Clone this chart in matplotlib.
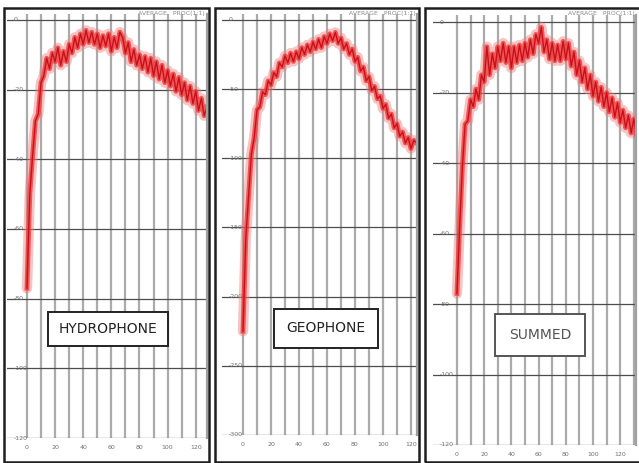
"""Three-panel amplitude spectra: hydrophone, geophone and summed traces."""

import matplotlib

matplotlib.use("Agg")
import matplotlib.pyplot as plt
from matplotlib.patches import Rectangle

W, H = 639, 463

# frequency samples (Hz), every 2 Hz
freq_hyd = list(range(0, 129, 2))
freq_geo = list(range(0, 125, 2))
freq_sum = list(range(0, 133, 2))

# amplitudes (dB)
amp_hyd = [
    -77, -50, -39, -29, -27, -18, -16, -11, -14, -9.5, -12, -8, -13, -9, -12, -7,
    -9.5, -5, -8, -4, -7, -3, -6.5, -3.5, -7, -4, -8, -4.5, -7.5, -4, -9, -5,
    -8, -3.5, -5, -9.5, -6.5, -12, -8.5, -13, -10, -14, -10.5, -15, -11, -16, -12,
    -17, -13, -18, -14.5, -19, -15.5, -20.5, -16.5, -21.5, -18, -23, -19, -24,
    -20.5, -26, -22.5, -27.5, -25,
]
amp_geo = [
    -225, -158, -127, -97, -85, -65, -63, -52, -54, -44, -47, -38, -41, -31, -34,
    -26, -31, -24, -30, -23, -28, -20, -25, -18, -23, -16, -21, -14, -20, -12, -17,
    -10, -15, -9, -17, -13, -21, -17, -25, -21, -30, -27, -37, -34, -44, -41, -51,
    -48, -57, -55, -64, -61, -71, -68, -78, -75, -84, -81, -89, -85, -93, -87, -89,
]
amp_sum = [
    -77, -58, -41, -29, -28, -22, -24, -19, -22, -15, -17, -7, -15, -9, -13, -7,
    -11, -6, -11.5, -7, -13, -7, -11.5, -6.5, -11, -6, -10, -5, -9, -3.5, -6, -1.5,
    -8.5, -5, -10.5, -6, -11, -6.5, -11, -5.5, -10.5, -6, -12.5, -8.5, -15, -11,
    -17, -13, -19, -15, -21, -17, -22.5, -18.5, -24, -20, -25.5, -21.5, -27, -23,
    -28.5, -25, -30, -26.5, -31.5, -27.5, -32,
]

x_ticks = [0, 20, 40, 60, 80, 100, 120]
x_minor = [10, 30, 50, 70, 90, 110, 130]
y_ticks_db = [0, -20, -40, -60, -80, -100, -120]
y_ticks_geo = [0, -50, -100, -150, -200, -250, -300]

labels = ["HYDROPHONE", "GEOPHONE", "SUMMED"]
header = "AVERAGE   PROC(1:1)"


def px_axes(fig, x0, x1, y0, y1):
    return fig.add_axes([x0 / W, 1 - y1 / H, (x1 - x0) / W, (y1 - y0) / H])


def style_panel(ax, xlim, ylim, yticks):
    ax.set_xlim(*xlim)
    ax.set_ylim(*ylim)
    ax.set_xticks(x_ticks, [str(t) for t in x_ticks])
    ax.set_xticks([t for t in x_minor if t <= xlim[1]], minor=True)
    ax.set_yticks(yticks, [str(t) for t in yticks])
    for side in ["top", "left", "bottom"]:
        ax.spines[side].set_visible(False)
    ax.spines["right"].set_color("#a0a0a0")
    ax.spines["right"].set_linewidth(1.6)
    ax.tick_params(axis="both", which="both", length=0, labelsize=4.5, labelcolor="#6f6f6f")
    ax.tick_params(axis="x", pad=5)
    ax.tick_params(axis="y", pad=-5)
    for lab in ax.get_yticklabels():
        lab.set_horizontalalignment("left")
        lab.set_verticalalignment("center")
    ax.grid(axis="y", color="#4d4d4d", linewidth=0.9)
    ax.grid(axis="x", which="both", color="#ababab", linewidth=1.6)
    ax.set_axisbelow(True)


def draw_curve(ax, f, a):
    ax.plot(f, a, color="#f07a7a", linewidth=7.5, alpha=0.45,
            solid_joinstyle="round", solid_capstyle="round")
    ax.plot(f, a, color="#ee3b3b", linewidth=3.5, alpha=0.8,
            solid_joinstyle="round")
    ax.plot(f, a, color="#c8101a", linewidth=1.0)


fig = plt.figure(figsize=(W / 100, H / 100), dpi=100)
fig.patch.set_facecolor("white")

# hydrophone
ax1 = px_axes(fig, 7, 207, 14, 438)
style_panel(ax1, (-14.2, 128), (-120, 1.7), y_ticks_db)
draw_curve(ax1, freq_hyd, amp_hyd)

# geophone
ax2 = px_axes(fig, 222, 417, 14, 435)
style_panel(ax2, (-15, 124.3), (-300, 4.3), y_ticks_geo)
draw_curve(ax2, freq_geo, amp_geo)

# summed
ax3 = px_axes(fig, 433, 636, 15, 445)
style_panel(ax3, (-17.6, 131.6), (-120, 2), y_ticks_db)
draw_curve(ax3, freq_sum, amp_sum)

# panel frames
for x0, x1 in [(4, 209), (215, 419), (425, 642)]:
    fig.patches.append(
        Rectangle((x0 / W, 1 - 462 / H), (x1 - x0) / W, 454 / H,
                  transform=fig.transFigure, fill=False,
                  edgecolor="#1e1e1e", linewidth=1.8)
    )

# small header text at the top of each panel
for xr in [205, 416, 635]:
    fig.text(xr / W, 1 - 14 / H, header, ha="right", va="center",
             fontsize=4.5, color="#8a8a8a")

# boxed labels
box_pos = [(108, 329, "#222222", 0.75), (326, 328, "#222222", 0.9),
           (540, 335, "#555555", 1.0)]
for (cx, cy, col, pad), lab in zip(box_pos, labels):
    fig.text(cx / W, 1 - cy / H, lab, ha="center", va="center",
             fontsize=10, color=col,
             bbox=dict(boxstyle=f"square,pad={pad}", facecolor="white",
                       edgecolor=col, linewidth=1.4))

fig.savefig("out.png", dpi=100)
plt.close(fig)
